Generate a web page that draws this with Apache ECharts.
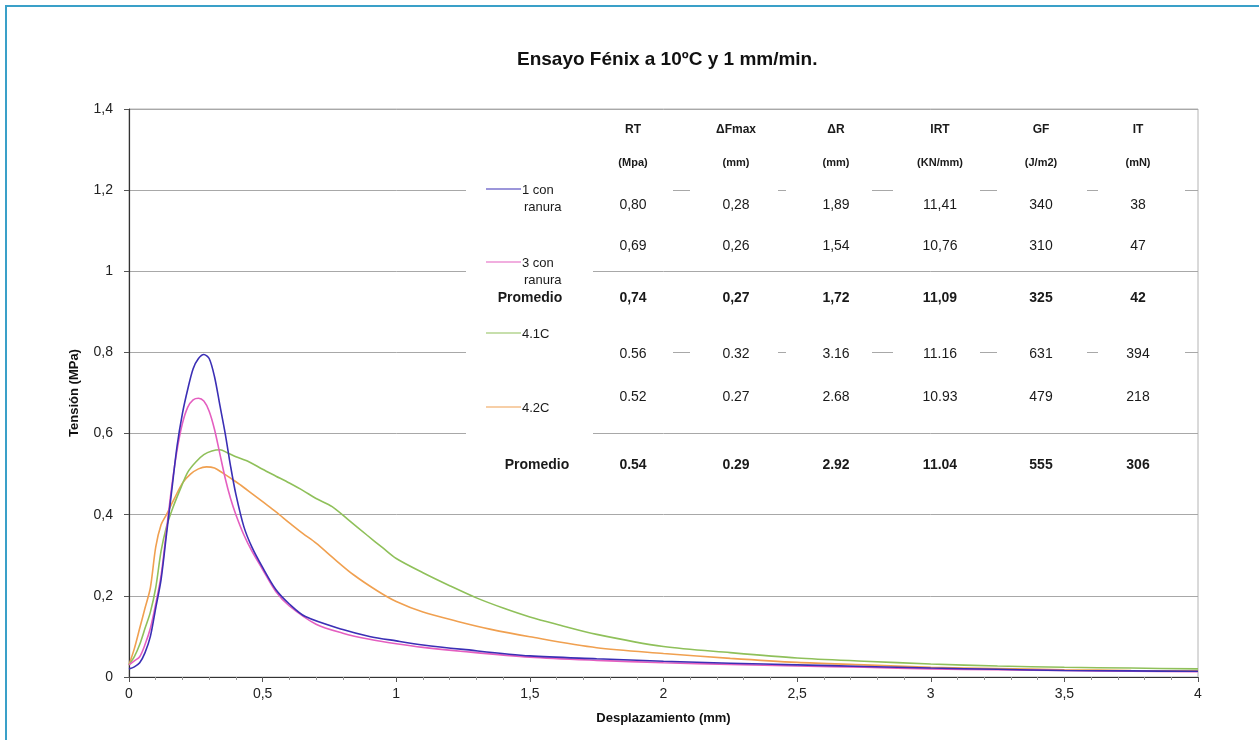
<!DOCTYPE html>
<html>
<head>
<meta charset="utf-8">
<title>Ensayo Fénix</title>
<script src="https://cdn.jsdelivr.net/npm/echarts@6/dist/echarts.min.js"></script>
<style>
  html, body { margin: 0; padding: 0; background: #fff; }
  #chart { width: 1259px; height: 740px; }
</style>
</head>
<body>
<div id="chart"></div>
<script>
// datos (desplazamiento mm / tension MPa)
var x1 = [0, 0.02, 0.04, 0.06, 0.08, 0.1, 0.12, 0.14, 0.16, 0.18, 0.2, 0.22, 0.24, 0.26, 0.28, 0.3, 0.32, 0.34, 0.36, 0.38, 0.4, 0.43, 0.46, 0.5, 0.55, 0.6, 0.66, 0.8, 0.9, 1.0, 1.1, 1.25, 1.5, 1.75, 2.0, 2.25, 2.5, 2.75, 3.0, 3.25, 3.5, 3.75, 4.0];
var y1 = [0.02, 0.025, 0.035, 0.06, 0.1, 0.17, 0.24, 0.35, 0.46, 0.57, 0.65, 0.71, 0.76, 0.785, 0.795, 0.785, 0.74, 0.67, 0.6, 0.52, 0.45, 0.37, 0.32, 0.27, 0.215, 0.18, 0.149, 0.117, 0.1, 0.089, 0.079, 0.068, 0.052, 0.045, 0.039, 0.034, 0.03, 0.026, 0.022, 0.019, 0.016, 0.015, 0.014];

var x3 = [0, 0.02, 0.04, 0.06, 0.08, 0.1, 0.12, 0.14, 0.16, 0.18, 0.2, 0.22, 0.24, 0.26, 0.28, 0.3, 0.32, 0.34, 0.36, 0.38, 0.4, 0.43, 0.46, 0.5, 0.55, 0.6, 0.7, 0.8, 0.9, 1.0, 1.1, 1.25, 1.5, 1.75, 2.0, 2.25, 2.5, 2.75, 3.0, 3.25, 3.5, 3.75, 4.0];
var y3 = [0.03, 0.04, 0.05, 0.08, 0.12, 0.18, 0.25, 0.36, 0.47, 0.56, 0.625, 0.665, 0.683, 0.687, 0.68, 0.655, 0.61, 0.55, 0.49, 0.44, 0.4, 0.35, 0.31, 0.265, 0.21, 0.175, 0.13, 0.108, 0.093, 0.082, 0.073, 0.063, 0.049, 0.041, 0.035, 0.031, 0.027, 0.024, 0.02, 0.018, 0.016, 0.014, 0.013];

var x41 = [0, 0.02, 0.04, 0.06, 0.08, 0.1, 0.12, 0.14, 0.16, 0.19, 0.22, 0.25, 0.28, 0.31, 0.34, 0.37, 0.4, 0.45, 0.5, 0.55, 0.6, 0.65, 0.7, 0.76, 0.82, 0.89, 0.95, 1.0, 1.1, 1.2, 1.3, 1.4, 1.5, 1.6, 1.75, 2.0, 2.25, 2.5, 2.75, 3.0, 3.25, 3.5, 3.75, 4.0];
var y41 = [0.03, 0.05, 0.08, 0.12, 0.16, 0.22, 0.31, 0.37, 0.41, 0.46, 0.505, 0.53, 0.548, 0.557, 0.56, 0.552, 0.543, 0.53, 0.512, 0.495, 0.478, 0.46, 0.44, 0.42, 0.388, 0.35, 0.318, 0.292, 0.257, 0.225, 0.195, 0.17, 0.148, 0.13, 0.105, 0.075, 0.06, 0.047, 0.039, 0.032, 0.027, 0.024, 0.022, 0.02];

var x42 = [0, 0.02, 0.04, 0.06, 0.08, 0.1, 0.12, 0.14, 0.17, 0.2, 0.23, 0.26, 0.29, 0.32, 0.35, 0.38, 0.42, 0.46, 0.5, 0.55, 0.6, 0.65, 0.7, 0.77, 0.84, 0.93, 1.0, 1.1, 1.23, 1.35, 1.5, 1.75, 2.0, 2.25, 2.5, 2.75, 3.0, 3.25, 3.5, 3.75, 4.0];
var y42 = [0.03, 0.07, 0.12, 0.17, 0.22, 0.32, 0.375, 0.4, 0.44, 0.478, 0.5, 0.513, 0.518, 0.515, 0.503, 0.49, 0.472, 0.452, 0.432, 0.407, 0.38, 0.354, 0.33, 0.29, 0.252, 0.212, 0.186, 0.16, 0.137, 0.118, 0.099, 0.072, 0.058, 0.046, 0.036, 0.03, 0.024, 0.021, 0.018, 0.016, 0.015];

var seriesNames = ['1 con ranura', '3 con ranura', '4.1C', '4.2C'];
var seriesColors = ['#3b2fb5', '#e45fc0', '#8fc05a', '#f0a050'];

// tabla de resultados
var tableHeads = ['RT', '\u0394Fmax', '\u0394R', 'IRT', 'GF', 'IT'];
var tableUnits = ['(Mpa)', '(mm)', '(mm)', '(KN/mm)', '(J/m2)', '(mN)'];
var row1 = ['0,80', '0,28', '1,89', '11,41', '340', '38'];
var row3 = ['0,69', '0,26', '1,54', '10,76', '310', '47'];
var prom1 = ['0,74', '0,27', '1,72', '11,09', '325', '42'];
var row41 = ['0.56', '0.32', '3.16', '11.16', '631', '394'];
var row42 = ['0.52', '0.27', '2.68', '10.93', '479', '218'];
var prom2 = ['0.54', '0.29', '2.92', '11.04', '555', '306'];

function zip(xs, ys) {
  var out = [];
  for (var i = 0; i < xs.length; i++) out.push([xs[i], ys[i]]);
  return out;
}
function coma(v) {
  if (v === 0) return '0';
  var s = (Math.round(v * 10) / 10).toString();
  return s.replace('.', ',');
}

var FONT = '"Liberation Sans", Arial, sans-serif';
var colX = [633, 736, 836, 940, 1041, 1138];
var cellL = [593, 690, 786, 893, 997, 1098];
var cellR = [673, 778, 872, 980, 1087, 1185];

var g = [];
// borde exterior azul
g.push({ type: 'rect', z: 1, shape: { x: 6, y: 6, width: 1300, height: 800 }, style: { fill: 'none', stroke: '#3aa0c8', lineWidth: 2 } });
// fondo blanco de la leyenda
g.push({ type: 'rect', z: 100, shape: { x: 466, y: 112, width: 127, height: 333 }, style: { fill: '#fff' } });
for (var c = 0; c < 6; c++) {
  g.push({ type: 'rect', z: 100, shape: { x: cellL[c], y: 182, width: cellR[c] - cellL[c], height: 16 }, style: { fill: '#fff' } });
  g.push({ type: 'rect', z: 100, shape: { x: cellL[c], y: 345, width: cellR[c] - cellL[c], height: 16 }, style: { fill: '#fff' } });
}

function txt(s, x, y, opt) {
  opt = opt || {};
  g.push({
    type: 'text', z: 101,
    style: {
      text: s, x: x, y: y,
      fill: '#1a1a1a',
      font: (opt.bold ? 'bold ' : '') + (opt.size || 14) + 'px ' + FONT,
      textAlign: opt.align || 'center',
      textVerticalAlign: 'middle'
    }
  });
}

for (var c = 0; c < 6; c++) {
  txt(tableHeads[c], colX[c], 130, { bold: true, size: 12 });
  txt(tableUnits[c], colX[c], 163, { bold: true, size: 11 });
  txt(row1[c], colX[c], 205);
  txt(row3[c], colX[c], 246);
  txt(prom1[c], colX[c], 298, { bold: true });
  txt(row41[c], colX[c], 354);
  txt(row42[c], colX[c], 397);
  txt(prom2[c], colX[c], 465, { bold: true });
}

// leyenda
var legY = [189, 262, 333, 407];
var legTxt = [['1 con', 'ranura'], ['3 con', 'ranura'], ['4.1C'], ['4.2C']];
for (var k = 0; k < 4; k++) {
  g.push({ type: 'line', z: 101, shape: { x1: 486, y1: legY[k], x2: 521, y2: legY[k] }, style: { stroke: seriesColors[k], lineWidth: 1.2 } });
  txt(legTxt[k][0], 522, legY[k] + 1, { size: 13, align: 'left' });
  if (legTxt[k][1]) txt(legTxt[k][1], 524, legY[k] + 18, { size: 13, align: 'left' });
}
txt('Promedio', 530, 298, { bold: true });
txt('Promedio', 537, 465, { bold: true });

var series = [
  zip(x1, y1), zip(x3, y3), zip(x41, y41), zip(x42, y42)
].map(function (d, i) {
  return {
    name: seriesNames[i],
    type: 'line',
    data: d,
    showSymbol: false,
    smooth: 0.3,
    lineStyle: { color: seriesColors[i], width: 1.6 },
    itemStyle: { color: seriesColors[i] },
    z: 3 + (3 - i)
  };
});

var chart = echarts.init(document.getElementById('chart'), null, { renderer: 'canvas' });
chart.setOption({
  animation: false,
  backgroundColor: '#fff',
  title: {
    text: 'Ensayo Fénix a 10ºC y 1 mm/min.',
    left: 512, top: 45,
    textStyle: { fontFamily: FONT, fontWeight: 'bold', fontSize: 19, color: '#111' }
  },
  grid: {
    left: 129, right: 61, top: 109, bottom: 63,
    show: true, borderColor: '#b4b4b4', borderWidth: 1, backgroundColor: 'transparent'
  },
  xAxis: {
    type: 'value', min: 0, max: 4, interval: 0.5,
    name: 'Desplazamiento (mm)', nameLocation: 'middle', nameGap: 35,
    nameTextStyle: { fontFamily: FONT, fontWeight: 'bold', fontSize: 13, color: '#111' },
    axisLine: { lineStyle: { color: '#333', width: 1.2 } },
    axisTick: { length: 5, lineStyle: { color: '#555' } },
    minorTick: { show: true, splitNumber: 5, length: 3, lineStyle: { color: '#999' } },
    axisLabel: { formatter: coma, fontFamily: FONT, fontSize: 14, color: '#222', margin: 10 },
    splitLine: { show: false }
  },
  yAxis: {
    type: 'value', min: 0, max: 1.4, interval: 0.2,
    name: 'Tensión (MPa)', nameLocation: 'middle', nameGap: 48, nameRotate: 90,
    nameTextStyle: { fontFamily: FONT, fontWeight: 'bold', fontSize: 13, color: '#111' },
    axisLine: { show: true, lineStyle: { color: '#333', width: 1.2 } },
    axisTick: { show: true, length: 5, lineStyle: { color: '#555' } },
    axisLabel: { formatter: coma, fontFamily: FONT, fontSize: 14, color: '#222', margin: 16 },
    splitLine: { show: true, lineStyle: { color: '#a8a8a8', width: 1 } }
  },
  series: series,
  graphic: g
});
</script>
</body>
</html>
